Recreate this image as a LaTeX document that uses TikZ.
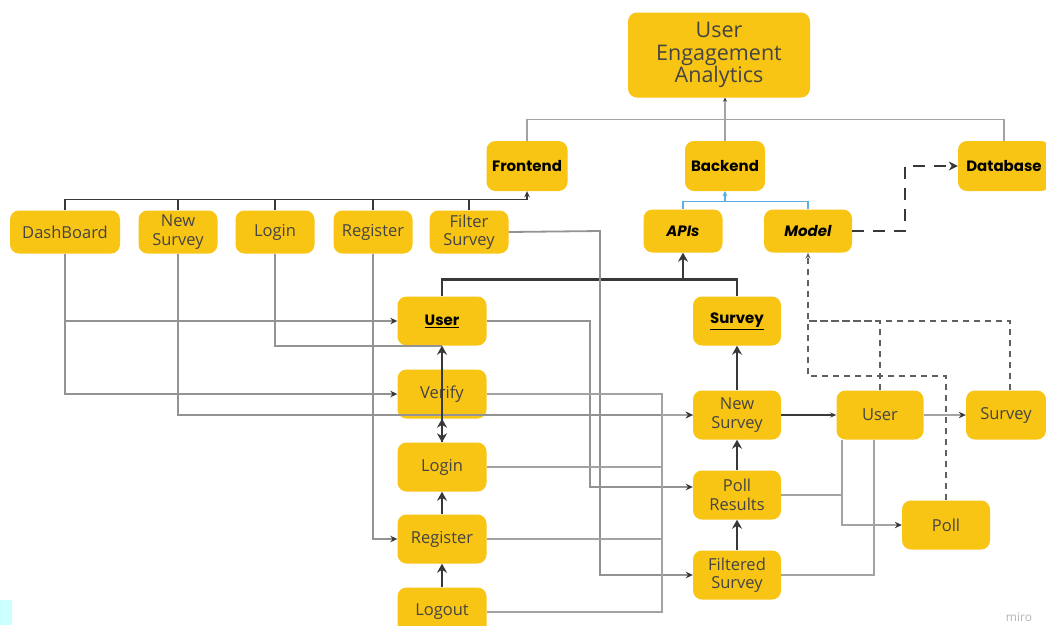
\documentclass[tikz,border=0pt]{standalone}
\usepackage{fontspec}
\setmainfont{Open Sans}
\newfontfamily\pop{Poppins}
\usetikzlibrary{arrows.meta,calc}
\definecolor{myyellow}{HTML}{F9C514}
\definecolor{txt}{HTML}{444444}
\definecolor{gl}{HTML}{A3A3A3}
\definecolor{dk}{HTML}{383838}
\definecolor{bl}{HTML}{5AAEE0}
\definecolor{cy}{HTML}{CCFFFF}
\tikzset{
  box/.style={fill=myyellow, rounded corners=9pt, align=center, inner sep=0pt,
    text=txt, font=\fontsize{16.5}{18.5}\selectfont, minimum height=49pt},
  bbox/.style={box, text=black, font=\pop\bfseries\fontsize{15}{17}\selectfont},
  ibox/.style={box, text=black, font=\pop\bfseries\itshape\fontsize{15}{17}\selectfont},
  tip/.style={-{Stealth[length=7pt,width=6.5pt,color=dk]}},
  thk/.style={draw=dk, line width=2.8pt},
  thktip/.style={-{Stealth[length=9pt,width=10pt]}},
  gline/.style={draw=gl, line width=1.1pt},
  gline2/.style={draw=gl!90!black, line width=1.8pt},
  dline/.style={draw=dk, line width=1.5pt},
  bline/.style={draw=bl, line width=1.2pt},
  dsh/.style={draw=dk!80, line width=1.6pt, dash pattern=on 6pt off 5pt},
  dshthick/.style={draw=dk, line width=2.8pt, dash pattern=on 12pt off 9pt},
}
\begin{document}
\begin{tikzpicture}[x=1pt,y=-1pt]
\useasboundingbox (0,0) rectangle (1046,625);
\fill[white] (0,0) rectangle (1046,625);
\fill[cy] (0,600) rectangle (12,625);
% nodes
\node[box, minimum width=182pt, minimum height=85pt, font=\fontsize{21.5}{22.5}\selectfont] (uea) at (719,55) {User\\Engagement\\Analytics};
\node[bbox, minimum width=81pt, minimum height=50pt] (frontend) at (527,166) {Frontend};
\node[bbox, minimum width=80pt, minimum height=50pt] (backend) at (725,166) {Backend};
\node[bbox, minimum width=92pt, minimum height=50pt] (database) at (1004,166) {Database};
\node[box, minimum width=110pt, minimum height=43pt] (dash) at (65,232) {DashBoard};
\node[box, minimum width=79pt, minimum height=43pt] (nsT) at (178,232) {New\\Survey};
\node[box, minimum width=79pt, minimum height=43pt] (loginT) at (275,232) {Login};
\node[box, minimum width=79pt, minimum height=43pt] (regT) at (373,232) {Register};
\node[box, minimum width=79pt, minimum height=43pt] (filter) at (469,232) {Filter\\Survey};
\node[ibox, minimum width=79pt, minimum height=43pt] (apis) at (683,231) {APIs};
\node[ibox, minimum width=88pt, minimum height=43pt] (model) at (808,231) {Model};
\node[bbox, minimum width=89pt] (userB) at (442,321) {\underline{User}};
\node[bbox, minimum width=88pt] (surveyB) at (737,321) {\underline{Survey}};
\node[box, minimum width=89pt] (verify) at (442,394) {Verify};
\node[box, minimum width=89pt] (loginM) at (442,467) {Login};
\node[box, minimum width=89pt] (regM) at (442,539) {Register};
\node[box, minimum width=89pt] (logout) at (442,612) {Logout};
\node[box, minimum width=88pt] (nsM) at (737,415) {New\\Survey};
\node[box, minimum width=88pt] (pollres) at (737,495) {Poll\\Results};
\node[box, minimum width=88pt] (filtered) at (737,575) {Filtered\\Survey};
\node[box, minimum width=87pt] (userR) at (880,415) {User};
\node[box, minimum width=80pt] (surveyR) at (1006,415) {Survey};
\node[box, minimum width=88pt] (poll) at (946,525) {Poll};
\node[text=gl!80, font=\fontsize{12}{12}\selectfont] (miro) at (1019,617) {miro};
\coordinate (bbus) at (725,201);
\coordinate (abus) at (683,279);
% tree to UEA
\draw[gline] (frontend.north) -- ++(0,-21) -| (database.north);
\draw[gline, -{Stealth[length=4pt,width=4pt,color=dk]}] (backend.north) -- (backend.north |- uea.south);
% top row to Frontend
\draw[dline, -{Stealth[length=6pt,width=5.5pt]}] (dash.north) -- ++(0,-11) -| (frontend.south);
\draw[dline] (nsT.north) -- ++(0,-11);
\draw[dline] (loginT.north) -- ++(0,-11);
\draw[dline] (regT.north) -- ++(0,-11);
\draw[dline] (filter.north) -- ++(0,-11);
% APIs / Model to Backend
\draw[bline] (apis.north) -- ++(0,-8) -| (model.north);
\draw[bline, -{Stealth[length=5pt,width=5pt]}] (bbus) -- (backend.south);
% User / Survey to APIs
\draw[thk] (userB.north) -- ++(0,-17) -| (surveyB.north);
\draw[thk, thktip] (abus) -- (apis.south);
% Model to Database
\draw[dshthick, -{Stealth[length=9pt,width=9pt]}] (model.east) -- (905,231) |- (database.west);
% dashed to Model
\draw[dsh, -{Stealth[length=6pt,width=5pt]}] (poll.north) |- (808,376) -- (model.south);
\draw[dsh] (userR.north) |- (808,321);
\draw[dsh] ([xshift=4pt]surveyR.north) |- (808,321);
% left lines
\draw[gline2, tip] (dash.south) |- (userB.west);
\draw[gline2, tip] (dash.south) |- (verify.west);
\draw[gline2, tip] (nsT.south) |- (nsM.west);
\draw[gline2] (loginT.south) |- (userB.south);
\draw[gline2, tip] (regT.south) |- (regM.west);
\draw[gline2, tip] (filter.east) -- (600,231) |- (filtered.west);
\draw[gline2, tip] (userB.east) -- (590,321) |- ([yshift=8pt]pollres.west);
\draw[gline, tip] (verify.east) -- (662,394) |- (nsM.west);
\draw[gline] (loginM.east) -- (662,467) -- (662,415);
\draw[gline] (regM.east) -- (662,539) -- (662,467);
\draw[gline] (logout.east) -- (662,612) -- (662,539);
% thick arrows
\draw[thk, thktip] (loginM.north) -- (userB.south);
\draw[thk, {Stealth[length=9pt,width=10pt]}-{Stealth[length=9pt,width=10pt]}] (verify.south) -- (loginM.north);
\draw[thk, thktip] (regM.north) -- (loginM.south);
\draw[thk, thktip] (logout.north) -- (regM.south);
\draw[thk, thktip] (nsM.north) -- (surveyB.south);
\draw[thk, thktip] (pollres.north) -- (nsM.south);
\draw[thk, thktip] (filtered.north) -- (pollres.south);
% right side
\draw[draw=dk, line width=1.2pt, -{Stealth[length=6pt,width=5pt]}] (nsM.east) -- (userR.west);
\draw[gline, tip] (userR.east) -- (surveyR.west);
\draw[gline, tip] ([xshift=-38pt]userR.south) |- (poll.west);
\draw[gline] (pollres.east) -- (842,495);
\draw[gline] (filtered.east) -| ([xshift=-6pt]userR.south);
\end{tikzpicture}
\end{document}
